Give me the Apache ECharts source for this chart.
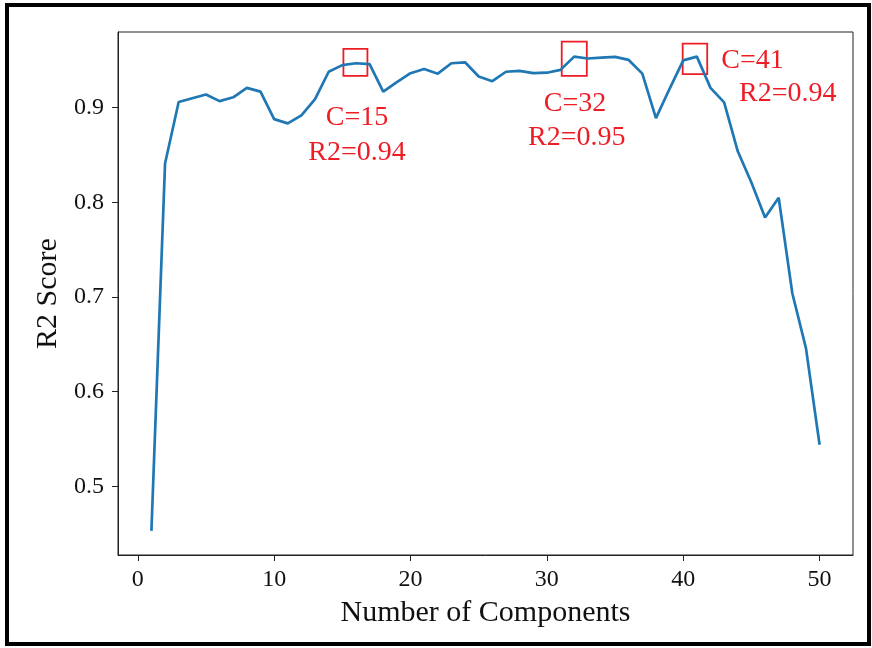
<!DOCTYPE html>
<html><head><meta charset="utf-8">
<script src="https://cdn.jsdelivr.net/npm/echarts@6/dist/echarts.min.js"></script>
<style>html,body{margin:0;padding:0;background:#fff}#c{width:872px;height:648px}</style>
</head><body><div id="c"></div>
<script>
// ---- data ----
const components = [1,2,3,4,5,6,7,8,9,10,11,12,13,14,15,16,17,18,19,20,21,22,23,24,25,26,27,28,29,30,31,32,33,34,35,36,37,38,39,40,41,42,43,44,45,46,47,48,49,50];
const r2Scores = [0.453,0.841,0.906,0.910,0.914,0.907,0.911,0.921,0.917,0.888,
                  0.8835,0.892,0.909,0.938,0.945,0.947,0.946,0.917,0.927,0.9365,
                  0.941,0.936,0.947,0.948,0.933,0.928,0.938,0.939,0.9365,0.937,
                  0.940,0.954,0.952,0.953,0.9537,0.9505,0.936,0.889,0.920,0.950,
                  0.954,0.921,0.9056,0.854,0.821,0.784,0.805,0.704,0.646,0.544];
const xTicks = [0,10,20,30,40,50];
const yTicks = [0.5,0.6,0.7,0.8,0.9];
// highlight boxes in data coords: [x0, y0, x1, y1]
const boxC15 = [15.08, 0.9337, 16.84, 0.9621];
const boxC32 = [31.09, 0.9337, 32.93, 0.9698];
const boxC41 = [39.96, 0.9355, 41.76, 0.9677];
// annotation texts and their data-coordinate anchors
const annotationText = ['C=15','R2=0.94','C=32','R2=0.95','C=41','R2=0.94'];
const annotationX = [16.08, 16.08, 32.06, 32.19, 45.08, 47.67];
const annotationY = [0.8898, 0.8529, 0.9047, 0.8679, 0.9495, 0.9153];

// ---- chart ----
const FONT = '"Liberation Serif","Times New Roman",serif';
const chart = echarts.init(document.getElementById('c'), null, {renderer:'canvas'});
const boxes = [boxC15, boxC32, boxC41];
chart.setOption({
  animation:false,
  backgroundColor:'#fff',
  grid:{left:118, right:19, top:32, bottom:93, show:true, borderColor:'#222', borderWidth:1, backgroundColor:'transparent'},
  graphic:[{type:'rect', shape:{x:7, y:5, width:862, height:639}, style:{fill:'none', stroke:'#000', lineWidth:4}, silent:true}],
  xAxis:{
    type:'value', min:-1.45, max:52.45,
    name:'Number of Components', nameLocation:'middle', nameGap:43,
    nameTextStyle:{fontFamily:FONT, fontSize:30, color:'#111'},
    axisLine:{show:true, onZero:false, lineStyle:{color:'#222', width:1}},
    axisTick:{show:true, inside:false, length:6, customValues:xTicks, lineStyle:{color:'#222', width:1}},
    axisLabel:{show:true, customValues:xTicks, margin:13, fontFamily:FONT, fontSize:24, color:'#111', formatter:v=>String(v)},
    splitLine:{show:false}
  },
  yAxis:{
    type:'value', min:0.4275, max:0.980,
    name:'R2 Score', nameLocation:'middle', nameGap:50,
    nameTextStyle:{fontFamily:FONT, fontSize:30, color:'#111'},
    axisLine:{show:true, onZero:false, lineStyle:{color:'#222', width:1}},
    axisTick:{show:true, inside:false, length:6, customValues:yTicks, lineStyle:{color:'#222', width:1}},
    axisLabel:{show:true, customValues:yTicks, margin:14, fontFamily:FONT, fontSize:24, color:'#111', formatter:v=>v.toFixed(1)},
    splitLine:{show:false}
  },
  series:[{
    type:'line',
    data:components.map((c,i)=>[c, r2Scores[i]]),
    showSymbol:false, symbol:'none',
    lineStyle:{color:'#1f77b4', width:2.7},
    itemStyle:{color:'#1f77b4'},
    markArea:{
      silent:true,
      itemStyle:{color:'rgba(0,0,0,0)', borderColor:'#ee1c25', borderWidth:1.8},
      data:boxes.map(b=>[{coord:[b[0], b[1]]},{coord:[b[2], b[3]]}])
    },
    markPoint:{
      silent:true,
      data:annotationText.map((t,i)=>({
        coord:[annotationX[i], annotationY[i]],
        symbol:'rect', symbolSize:1,
        itemStyle:{color:'rgba(0,0,0,0)'},
        label:{show:true, position:'inside', formatter:t, fontFamily:FONT, fontSize:28, color:'#ee1c25'}
      }))
    }
  }]
});
</script>
</body></html>
